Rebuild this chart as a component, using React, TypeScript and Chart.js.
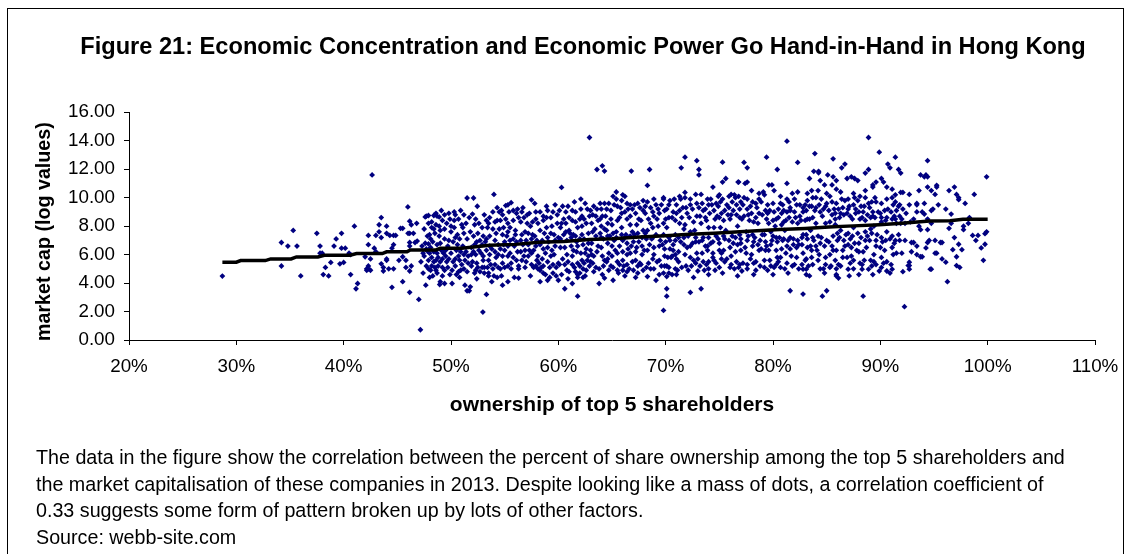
import React, { useEffect, useRef } from "react";
import { Chart, registerables } from "chart.js";

Chart.register(...registerables);

const titleText = "Figure 21: Economic Concentration and Economic Power Go Hand-in-Hand in Hong Kong";
const xAxisLabel = "ownership of top 5 shareholders";
const yAxisLabel = "market cap (log values)  ";
const notes = [
  "The data in the figure show the correlation between the percent of share ownership among the top 5 shareholders and",
  "the market capitalisation of these companies in 2013. Despite looking like a mass of dots, a correlation coefficient of",
  "0.33 suggests some form of pattern broken up by lots of other factors.",
  "Source: webb-site.com",
];

const trendLine = [
  [28.7,5.47],[30,5.47],[30.4,5.58],[32.7,5.58],[33.2,5.7],[35.1,5.7],[35.6,5.84],[37.6,5.84],[38.2,5.96],[40.6,5.96],[41.2,6.07],[43.6,6.07],[44,6.2],[45.9,6.2],[46.2,6.33],[48.6,6.33],[49,6.44],[51,6.44],[53.6,6.66],[56,6.72],[58.2,6.87],[60.5,6.92],[62.9,7.06],[65,7.12],[67.6,7.24],[70,7.32],[72.2,7.43],[74.5,7.5],[76.9,7.6],[78.5,7.68],[80.6,7.76],[83,7.84],[85.2,7.94],[87.5,8.02],[89.9,8.1],[92,8.2],[94.6,8.36],[96.5,8.38],[97.7,8.48],[100,8.48],
];

const ownership30s = [
  [28.7,4.49],[34.2,6.85],[34.2,5.2],[34.8,6.6],[35.65,6.6],[35.3,7.7],[36,4.5],[37.5,7.5],[37.8,6.6],[37.8,6.1],[38,6.1],[38.3,5.1],[38.1,4.6],[38.6,4.5],[38.8,5.45],[39.1,6.6],[39.3,7.1],[39.8,7.5],[39.8,6.45],
];
const ownership40s = [
  [40.15,6.45],[39.65,5.35],[40,5.45],[40.5,6.1],[40.65,6],[41,8],[40.65,4.6],[41.3,3.97],[41.15,3.6],[42,5.85],[42.3,7.35],[42.3,6.7],[42.5,5.7],[42.65,11.6],[42.3,5.2],[42.15,5],[42.5,4.9],[42.15,4.9],[42.3,5],[43,7.35],[42.85,6.45],[43,6.2],[43.3,8.1],[43.5,8.6],[43.3,7.6],[43.5,7.2],[44,8],[44,7.5],[44.3,7.35],[44.65,7.35],[44.85,7.35],[44.5,6.45],[44.65,6.7],[43.5,5.35],[43.7,5.1],[43.7,4.85],[44,5.7],[44,5.6],[44.2,5],[44.65,5],[44.5,3.7],[45.15,5.6],[45.5,5.85],[45.5,4.1],[45.3,7.85],[45.5,7.85],[45.8,5.1],[45.8,5.6],[45.98,9.35],[46.15,8.35],[46.3,8.1],[46.8,8.2],[46,7.5],[46.15,7.5],[46.5,7.5],[46.15,6.85],[46.15,6.6],[46.65,6.85],[46.85,6.95],[46.3,5.2],[46.15,4.85],[46.15,3.35],[47,2.85],[47.15,0.72],[47.65,3.85],
  [47.6,8.65],[47.7,8.7],[47.9,8.75],[48.4,8.75],[48.6,8.9],[48.7,8.7],[48.9,8.65],[48.2,8.3],[48.6,8.1],[48.4,7.8],[48,7.4],[47.8,7.3],[48.1,7.1],[47.6,6.8],[47.9,6.75],[48.3,6.9],[48.7,6.7],[48.5,7.5],[48.9,7.3],[47.8,6.25],[47.4,6.1],[48,6.1],[47.2,5.5],[47.7,5.2],[47.9,5.6],[48.2,5.2],[48.4,5.5],[48.6,5.6],[48.8,5.2],[48.6,4.9],[48.3,4.5],[48,4.4],[48.7,4.7],[49,4.1],[48.95,3.9],[49,5.5],[49,6.8],[49.1,9.1],[49.2,8.4],[49.4,7.8],[49.3,6.1],[49.5,6.3],[49.8,7],[49.6,5.5],[49.4,4.9],[49.7,5.1],[49.9,4.6],[49.4,3.97],[49.8,8.9],[49.9,8.5],
];
const ownership50s = [
  [50.1,3.97],[50.3,9],[50.3,8.4],[50.4,7.2],[50.6,7.4],[50.2,6.9],[50.5,6.3],[50.7,5.9],[50.2,5.5],[50.4,5.2],[50.8,5.6],[50.7,4.8],[50.9,4.9],[50.5,4.6],[50.9,9.1],[51,8.1],[51.2,7.5],[51.4,8.2],[51.1,6.6],[51.4,6.2],[51.3,5.6],[51.6,5.4],[51.2,5],[51.5,4.8],[51.3,3.85],[51.5,3.46],[51.7,3.46],[51.8,3.74],[51.5,9.98],[52.1,9.98],[52,8.85],[52.2,8.1],[52.1,7.3],[52.4,6.9],[51.9,6.5],[52.1,6.2],[52.3,6],[52,5.5],[52.4,5.4],[52.5,5.1],[52.3,4.9],[52.45,9.4],[52.97,1.96],[52.7,7],[52.9,7.9],[53,7.3],[52.8,6.1],[53,5.6],[53.1,5.1],[52.9,5.1],[53.3,3.2],[53.3,8.4],[53.4,7.9],[53.5,8.2],[53.3,7.1],[53.6,6.6],[53.3,6.3],[53.6,6],[53.5,5.6],[53.7,5.3],[53.5,4.7],[53.8,4.1],[53.5,4.5],[54,10.23],[54.1,8.3],[54.3,8.4],[53.9,7.8],[54.2,7.5],[54.4,6.7],[54.1,6.2],[54.4,6],[54.1,5.3],[54.4,5.1],[54.3,4.4],[54.7,4.5],[54.5,9],[54.7,9.1],[54.8,8.8],[54.9,7.9],[54.8,7.4],[55,6.9],[54.8,5.9],[55,6.3],[54.8,5.4],[55,5.1],[54.8,3.85],[55.1,9.45],[55.3,9.5],[55.3,8.2],[55.5,7.9],[55.3,7.6],[55.5,7],[55.3,6.6],[55.5,6.1],[55.6,5.4],[55.3,5.2],[55.3,4.1],[55.6,9.65],[55.8,9.1],[56.1,8.9],[56.2,9.2],[56,7.7],[56,7.4],[55.9,6.6],[56.2,6.2],[56.1,5.6],[56.3,5.2],[56.3,4.35],[56.6,9],[56.5,8.3],[56.8,8.6],[56.6,7.4],[56.9,7.6],[56.7,6.7],[56.8,5.9],[56.6,5.6],[56.9,5.1],[57.3,8.9],[57.5,9.85],[57.1,8.2],[57.4,8],[57.2,7.5],[57.5,7.1],[57.2,6.7],[57.5,6.1],[57.2,5.9],[57.5,5.3],[57.7,5.1],[57.8,9.6],[57.9,9],[57.9,8.5],[57.8,7.3],[57.9,6.6],[58.1,5.9],[58,5.6],[58.1,5],[58.3,4.9],[58.3,4.1],[58.6,8.7],[58.6,8.4],[58.3,7.7],[58.5,7],[58.6,6.4],[58.5,5.7],[58.6,5.2],[58.6,4.7],[58.9,9.4],[59,9.1],[58.9,7.9],[59,7.2],[59,6.5],[59,5.5],[59,4.2],[59.4,8],[59.5,9],[59.6,7.4],[59.7,7],[59.3,5.9],[59.6,6],[59.5,5.3],[59.8,5.1],[59.8,4.5],[60,4.2],[59.9,8.2],
];
const ownership60s = [
  [60.3,10.72],[60.1,9.1],[60.3,8.2],[60.2,7.9],[60.2,7.1],[60.4,5.7],[60.1,5.3],[60.3,4.6],[60.6,3.6],[60.7,9],[60.7,8.2],[60.7,7.6],[60.8,7],[60.8,6],[60.9,5.5],[60.8,4.9],[61,8.6],[61.3,8.4],[61.1,7.5],[61.4,7.4],[61.2,6.6],[61.3,5.9],[61.3,5.3],[61.3,3.97],[61.5,5.1],[61.5,9.7],[61.6,9],[61.8,7.9],[61.6,7.3],[61.8,6.6],[61.7,6.2],[61.8,5.4],[61.8,3.08],[61.8,4.4],[61.8,4.6],[62,4.7],[62.1,9.9],[62.1,9.2],[62.2,8.7],[62.2,8],[62.2,7.4],[62.3,6.7],[62.1,6.1],[62.2,5.6],[62.3,5],[62.3,4.4],[62.5,9.6],[62.7,9.2],[62.6,8.2],[62.8,7.5],[62.6,6.4],[62.8,5.9],[62.9,14.23],[62.9,5.2],[62.7,5.6],[63,9.1],[63.1,8.2],[63.2,7.6],[63,6.3],[63.1,6],[63.2,5.4],[63.3,4.8],[63.3,9.4],[63.5,8.7],[63.6,11.98],[63.4,7.8],[63.7,8.4],[63.5,7.3],[63.6,6.2],[63.5,5.1],[63.8,3.97],[63.9,9.6],[64.1,12.24],[64,9.2],[64.1,8.7],[64,8],[64.3,7.8],[64,7.2],[64.1,5.9],[64.3,5.6],[64.2,5.2],[64.3,4.35],[64.3,11.87],[64.3,9.6],[64.5,9.2],[64.6,8.2],[64.5,7.7],[64.6,7.3],[64.7,6.1],[64.6,5.7],[64.7,4.9],[65.1,10.1],[64.9,9.1],[65,8.1],[65.1,7.5],[65,6.6],[65,5.9],[65.1,5.1],[65.1,4.2],[65.4,10.4],[65.4,9.9],[65.5,9.4],[65.5,8.4],[65.4,7.6],[65.4,7.2],[65.5,6.1],[65.5,5.5],[65.6,4.7],[65.9,9.8],[66,10.2],[65.9,8.9],[65.9,7.9],[66,7],[66,6.2],[66,5.6],[66,4.9],[66.2,10.1],[66.4,9.6],[66.4,8.5],[66.3,7.4],[66.4,6.8],[66.4,6],[66.4,5.3],[66.4,4.8],[66.8,11.87],[66.7,9.5],[66.9,9.2],[66.7,8.1],[66.9,7.6],[66.8,6.6],[66.7,6.1],[66.9,5.5],[67,4.9],[67.4,9.6],[67.2,8.9],[67.3,8.1],[67.4,7.5],[67.3,6.5],[67.2,5.6],[67.4,5.2],[67.4,4.7],[67.9,9.8],[67.9,9.1],[67.7,8.4],[67.9,7.7],[67.8,6.6],[67.8,6],[67.7,5.3],[67.9,4.9],[68.3,10.86],[68.5,11.98],[68.3,9.7],[68.4,8.5],[68.3,7.7],[68.2,7.1],[68.3,6.3],[68.4,5.4],[68.3,4.46],[68.6,5],[68.9,9.9],[68.8,9],[68.9,8.7],[68.8,7.9],[68.8,7.2],[68.9,6],[68.8,5.7],[68.9,5],[69.1,4.2],[69.3,9.2],[69.4,8.9],[69.3,8],[69.4,6.6],[69.4,5.6],[69.8,2.08],[69.8,10],[69.8,9.9],[69.9,9.1],[69.8,8.2],[69.8,7.4],[69.9,6.4],[69.9,5.9],[69.9,5.2],[69.8,4.7],
];
const ownership70s = [
  [70.1,3.08],[70.1,3.6],[70.1,4.46],[70.4,9.8],[70.1,9.2],[70.3,8.6],[70.1,7.9],[70.3,7.2],[70.4,6.4],[70.2,5.8],[70.3,5.1],[70.3,4.7],[70.6,4.6],[70.8,9.9],[70.7,9],[70.9,8.4],[70.9,7.4],[70.7,6.7],[70.9,6],[70.6,5.9],[70.9,5],[71.3,10.1],[71.4,9.9],[71.45,12.1],[71.3,9.1],[71.3,8.2],[71.2,7.2],[71.2,6.2],[71.2,5.5],[71.1,4.9],[71.8,12.85],[71.8,10.37],[71.8,10],[71.6,9.3],[71.9,9.3],[71.8,8.1],[71.7,7.8],[71.7,6.7],[71.8,6],[71.9,5.2],[72.1,4.9],[72.3,9.9],[72.3,9.5],[72.3,3.34],[72.2,8.6],[72.3,7.6],[72.3,6.6],[72.3,5.8],[72.4,5.2],[72.9,12.6],[73.1,11.98],[73.1,11.6],[72.8,10.23],[72.9,9.6],[72.9,8.7],[72.7,7.7],[72.8,6.9],[72.9,6.1],[72.8,5.4],[73,4.85],[73.3,3.6],[73.3,10.23],[73.4,9.6],[73.5,9.1],[73.3,8.2],[73.4,7],[73.4,6.1],[73.5,5.5],[73.6,4.9],[73.9,9.9],[74,9.5],[73.8,8.4],[74,7.9],[73.9,6.6],[73.9,6.3],[74,5.5],[74,5],[74.4,10.75],[74.3,9.5],[74.5,9.1],[74.6,8.5],[74.5,7.9],[74.4,6.9],[74.4,6.1],[74.5,5.6],[74.6,4.9],[75,10.2],[74.9,10.1],[75.1,9.7],[74.9,9.4],[75,8.6],[75.1,7.9],[74.9,7.1],[75,6.3],[75.2,5.7],[75,5.1],[75.3,12.5],[75.3,11.1],[75.3,9.9],[75.5,9.1],[75.4,8.4],[75.6,7.7],[75.5,7.1],[75.4,6.3],[75.5,5.5],[75.6,11.35],[75.9,9.3],[75.9,10.1],[76.1,10.23],[76,8.5],[76.2,7.3],[76,6.5],[76.1,5.9],[76,5.1],[76.75,11.1],[76.4,10.2],[76.5,10],[76.6,9.5],[76.3,9.1],[76.6,8.8],[76.7,8],[76.5,7.2],[76.5,6.2],[76.6,5.5],[76.4,5],[76.8,11.1],[76.8,10.1],[77,9.7],[76.9,9.2],[77.1,8.5],[76.9,7.4],[77,6.8],[77,6.3],[76.9,5.3],[77.1,4.85],[77.3,12.48],[77.6,12.1],[77.4,11],[77.6,11.1],[77.3,10],[77.6,9.9],[77.6,9.2],[77.7,8.8],[77.5,7.6],[77.6,7],[77.5,6.1],[77.6,5.3],[77.6,5],[78,10.5],[78.1,9.7],[78,8.9],[78.2,8.3],[78.1,7.4],[78.2,6.9],[78,6],[78.2,5.4],[78.4,4.9],[78.7,10.3],[78.7,9.9],[78.5,9.3],[78.7,8.9],[78.6,8.2],[78.8,7],[78.7,6.3],[78.8,5.2],[79.1,10.4],[79.2,10.2],[79.4,12.85],[79.3,9.1],[79.4,8.5],[79.2,7.4],[79.3,6.9],[79.3,6.3],[79.2,5.6],[79.2,5.1],[79.6,10.9],[79.9,10.9],[79.7,9.1],[79.6,8.2],[79.8,7.6],[79.9,7],[79.6,6.3],[79.7,5.6],[79.8,5.2],
];
const ownership80s = [
  [80.1,10.5],[80.4,11.98],[80.1,9],[80.3,8.5],[80.2,8],[80.3,7.2],[80.3,6.3],[80.4,5.8],[80.3,5.3],[80.7,10.1],[80.7,9.6],[80.9,9.5],[80.8,8.9],[80.8,8.1],[80.6,7.2],[80.9,7],[80.7,5.8],[80.7,5.1],[81.3,13.97],[81.3,11],[81.3,9.9],[81.3,9],[81.2,8.4],[81.1,7.7],[81.3,6.6],[81.2,6.1],[81.3,5.4],[81.6,3.46],[81.8,10.3],[81.6,9.3],[81.6,9.1],[81.8,8.3],[81.6,7.2],[81.9,6.7],[81.7,5.9],[81.8,5.2],[82.3,12.48],[82.3,10.4],[82.2,9.5],[82.1,8.6],[82.3,8.2],[82.3,7],[82.2,6.5],[82.2,5.8],[82.4,5],[82.8,3.23],[82.8,9.3],[82.8,9],[82.6,8.4],[82.8,7.4],[82.7,6.7],[82.8,6.1],[82.7,5.3],[82.8,4.98],[83.1,4.6],[83.2,10.3],[83.2,9.8],[83.1,9.1],[83.2,8.5],[83.1,7.4],[83.2,6.5],[83.1,5.7],[83.1,4.98],[83.4,11.35],[83.6,10.5],[83.8,11.85],[83.9,13.1],[83.7,10],[83.6,9.4],[83.7,8.6],[83.5,7.7],[83.7,7.2],[83.5,6.6],[83.6,5.8],[83.7,5.3],[84.25,11.85],[84.25,11.75],[84.4,11.2],[84.2,10.5],[84,10],[84.3,9.5],[84.4,9],[84,8.2],[84.2,7.3],[84.4,6.8],[84.1,6.3],[84.2,5.6],[84.4,5],[84.6,3.08],[85,3.46],[85.1,11.6],[84.8,10.9],[85,10.3],[85,9.6],[84.7,9.2],[84.9,8.2],[85,7],[84.8,6.6],[84.9,5.8],[84.9,5.3],[85.6,12.73],[85.6,11.47],[85.5,10.9],[85.3,10.1],[85.5,9.7],[85.5,8.8],[85.3,8.3],[85.6,7.3],[85.5,6.6],[85.3,6],[85.4,5.2],[85.9,11.2],[85.9,10.6],[85.9,9.6],[85.8,8.9],[85.8,8.1],[86,7.5],[86,7],[85.9,6.3],[85.8,5.6],[85.9,5],[85.9,4.6],[85.9,4.5],[86.1,4.35],[86.4,12.1],[86.7,12.36],[86.3,10.4],[86.4,9.9],[86.5,9.3],[86.3,8.9],[86.3,7.7],[86.6,7],[86.5,6.3],[86.5,5.8],[86.3,5.2],[86.9,11.35],[87.3,11.47],[87.6,11.35],[87.9,11.2],[87,9.9],[87,9.2],[86.9,8.9],[87,7.5],[87,6.7],[86.9,5.8],[87,4.98],[87.2,5.4],[87.5,10.3],[87.6,10],[87.5,9.5],[87.4,8.5],[87.5,7.9],[87.4,7.3],[87.3,6.5],[87.5,5.6],[87.5,5],[88.1,10.1],[87.9,9.8],[88,9],[88.1,8.5],[87.9,7.5],[88,6.8],[88,6.2],[88.1,5.4],[88.3,4.98],[88.6,11.73],[88.9,11.98],[88.9,14.23],[88.4,3.08],[88.6,10.5],[88.6,10],[88.5,9.4],[88.4,9],[88.6,8.4],[88.6,7.6],[88.6,7],[88.4,6.2],[88.5,5.6],[88.9,4.98],[89,9.3],[89.1,8.6],[89.1,7.8],[89,7],[89.1,5.6],[89.2,5.2],[89.3,10.9],[89.3,10.75],[89.6,11.1],[89.5,10],[89.6,9.7],[89.3,9],[89.5,8.6],[89.4,8],[89.7,7.4],[89.6,6.6],[89.4,6],[89.6,5.3],[89.9,13.2],[89.9,4.85],
];
const ownership90s = [
  [90.1,11.35],[90.3,11.1],[90.1,9.6],[90.1,8.6],[90.1,8.3],[90.1,7.2],[90,6.5],[90.1,5.8],[90.1,5.1],[90.6,10.75],[90.7,12.36],[90.9,12.1],[90.6,9.9],[90.7,9.2],[90.6,8.6],[90.6,7.6],[90.5,7],[90.4,6.3],[90.6,5.5],[90.6,4.85],[91.1,10.6],[91.1,10],[91.2,9.5],[91.1,8.5],[91.1,7.3],[91.1,6.5],[91.2,6],[91.1,4.98],[91,5.3],[91.4,12.85],[91.7,11.98],[91.9,11.73],[91.4,10.2],[91.4,9.7],[91.5,9.1],[91.4,8.5],[91.5,8.2],[91.4,7],[91.5,6.1],[91.9,10.37],[92.1,10.37],[91.8,9.5],[92.1,9.2],[91.8,8.7],[91.9,8.2],[91.8,7],[92,6.1],[92.25,2.34],[92.7,10.23],[92.4,8.9],[92.7,9.5],[92.3,8.2],[92.8,8.3],[92.3,7],[92.7,5.47],[92.7,5.23],[92.7,4.98],[92.6,5.23],[92.9,6.85],[93.1,6.85],[92.9,6.2],[93.1,8.5],[93.4,9.6],[93.4,9.5],[93.4,9],[93.6,10.5],[93.6,8],[93.75,7.75],[93.4,6.6],[93.4,6],[93.75,5.85],[93.9,5.85],[93.75,11.6],[94.1,11.47],[94.25,11.6],[94.4,11.47],[94.4,12.6],[93.9,9],[94.1,9.6],[94.1,8.85],[94.4,8.5],[94.4,7.75],[94.55,7],[94.4,6.85],[94.25,6.47],[94.65,4.98],[94.75,4.98],[94.4,10.75],[94.75,10.5],[94.75,9.1],[94.9,9.2],[94.75,8.2],[95.1,7],[95.1,6.1],[95.25,6.1],[95.1,10.23],[95.25,10.87],[95.25,10.75],[95.4,9.5],[95.6,6.85],[95.75,6.85],[95.75,5.7],[96.1,9.2],[96.1,5.47],[96.25,4.1],[96.4,10.5],[96.4,7.85],[96.6,8.85],[96.6,8.2],[96.75,6.35],[96.9,10.75],[96.9,7.2],[97.1,10.23],[97.1,5.85],[97.1,5.23],[97.3,10],[97.3,9.86],[97.3,6.73],[97.4,5.1],[97.6,6.35],[97.75,8],[97.75,7.75],[97.9,9.6],[98.2,8.2],[98.3,8.6],[98.6,7.35],[98.75,10.23],[98.9,7],[99.1,7.35],[99.4,6.47],[99.6,5.6],[99.75,7.47],[99.75,6.73],[99.9,7.6],[99.9,11.47],
];
const denseBandLeft = [
  [47.3,6.6],[47.5,5.9],[47.7,6.4],[47.4,4.7],[47.9,5],[48.1,6.5],[48.2,5.8],[48.1,4.9],[48.4,6.2],[48.5,5.1],[48.7,6.1],[48.8,5.8],[49,7.7],[49.1,6.3],[49.2,5.7],[49.2,5.1],[49.4,7.1],[49.5,5.9],[49.7,6.6],[49.8,5.7],[50,7.6],[50,6.1],[50.1,4.9],[50.3,7.9],[50.4,5.7],[50.6,6.7],[50.8,7.1],[50.9,6.2],[51,5.3],[51.1,7.9],[51.2,6],[51.5,7.1],[51.6,5.9],[51.8,7.6],[51.9,6],[51.9,5.2],[52.2,6.7],[52.2,4.7],[52.5,7.5],[52.6,6.3],[52.7,4.8],[52.9,6.7],[53,5.9],[53.1,4.7],[53.2,6.9],[53.4,5.1],[53.6,7.3],[53.8,6.4],[53.9,5],[54.1,7],[54.2,5.8],[54.5,7.8],[54.6,6.4],[54.6,5],[54.9,6.7],[55.2,7.3],[55.3,5.9],[55.6,5],[55.8,7.1],[55.8,5.8],[56.1,6.9],[56.3,5],[56.5,7],[56.5,6.2],[56.9,6.3],[57,7],[57,5.5],[57.3,6.3],[57.6,7.4],[57.7,6.3],[57.9,5.2],[58,7],[58.2,5.4],[58.3,6.7],[58.4,5.1],[58.7,7.5],[58.8,6.1],[58.8,4.6],[59.1,6.9],[59.2,5.1],[59.3,7.5],[59.4,6.3],[59.5,4.7],[59.7,6.6],[60,7.2],[60,5.4],[60.2,6.5],[60.5,7.4],[60.6,6.5],[60.6,5.3],[61,7.7],[61,4.8],[61.2,7.2],[61.4,6.3],[61.6,4.8],[61.7,6.9],[62,5.2],[62,7.1],[62.4,7.1],[62.4,5.4],[62.5,6.1],[62.6,4.9],[62.8,6.8],[63,5.5],[63.1,6.8],[63.3,5.9],[63.7,6.6],[63.8,5],[63.9,7.5],[64,6.5],[64.2,7.1],[64.5,5.5],[64.6,6.8],[64.8,7.3],[64.9,5.2],[65.2,7],[65.3,6.3],[65.5,4.9],[65.7,6.6],[65.7,5.3],[65.9,7.4],[66.1,5.2],[66.2,7.2],[66.5,6.4],[66.6,5],[66.7,7.3],[67,6.9],[67.1,7.4],[67.2,6.2],[67.5,6.9],[67.6,5.4],[67.8,7.2],[68,6.3],[68.1,7.5],[68.2,5.1],[68.5,6.7],[68.7,7.1],[68.9,6.5],[69.1,7.4],[69.2,5.5],[69.5,7],[69.6,5.2],[69.7,6.7],
];
const denseBandRight = [
  [70,6.9],[70.1,5.2],[70.4,7],[70.5,5.8],[70.7,6.3],[70.9,7],[71,5.7],[71.4,6.9],[71.5,5.1],[71.7,7.2],[72,6.5],[72.1,7.3],[72.5,6.8],[72.6,5.6],[72.8,7.2],[73,5.7],[73.1,6.9],[73.2,5.2],[73.5,7.2],[73.7,6.6],[73.8,5.3],[74,7.2],[74.2,6.8],[74.4,5.8],[74.7,7.3],[74.7,5.4],[75,6.8],[75.2,6.1],[75.4,7.3],[75.7,5.7],[75.9,7],[76.1,5.3],[76.3,6.8],[76.7,6.7],[76.8,5.1],[77,7.1],[77.2,5.4],[77.4,6.5],[77.7,7.3],[77.9,5.7],[78.1,6.6],[78.3,7.2],[78.4,5.5],[78.6,6.7],[78.9,6.4],[79,7.4],[79.4,6.6],[79.5,4.9],[79.8,6.7],[80,7.3],[80.1,5.1],[80.4,6.9],[80.5,5.5],[80.8,6.4],[81,7.1],[81.1,5],[81.4,7],[81.6,6.4],[81.9,7.1],[82,5.3],[82.4,6.7],[82.7,7.2],[83,5.6],[83.2,7.1],[83.3,5.2],[83.6,6.3],[83.8,7],[84,6.6],[84.3,6],[84.5,7.2],[84.7,5],[85.2,6.9],[85.3,5.1],[85.6,6.3],[86.1,5.3],[86.2,7.2],[86.7,6.6],[86.8,7.4],[87.2,7.1],[87.3,5.9],[87.6,6.8],[87.8,6.3],[88.2,7.2],[88.3,5.3],[88.7,6.5],[88.8,7.3],[89.2,7.5],[89.4,5.5],[89.6,7],[90.2,6.9],[90.3,5.4],[90.9,7.1],[91.3,6.8],[91.7,7.4],
];
const upperBand = [
  [47.5,7.8],[47.9,8.2],[48.2,7.9],[48.9,8],[49.4,8.8],[49.6,8.2],[50,8],[50.4,8.8],[50.7,8.5],[51.2,8.8],[51.7,8.6],[52.3,8.5],[52.6,8.2],[53.1,8.8],[53.6,8.6],[53.9,9],[54.3,9.3],[54.6,8.4],[55.1,8.5],[55.4,9],[55.8,8.4],[56.3,8.6],[56.7,9.3],[57.1,8.8],[57.6,8.3],[58.1,8.2],[58.3,9],[58.9,8.6],[59.3,8.6],[59.7,9.5],[59.9,8.8],[60.4,9.4],[60.5,8.5],[60.9,9.4],[61.3,9.1],[61.6,8.3],[62,8.5],[62.4,8.5],[62.9,8.7],[63.2,8.8],[63.6,9.2],[63.9,8.5],[64.4,8.7],[64.7,9.6],[64.9,8.5],[65.2,9.5],[65.7,8.6],[65.8,9.3],[66.2,9],[66.5,9.2],[66.7,8.7],[67.1,9.5],[67.5,8.5],[67.6,9.3],[68.1,8.9],[68.1,9.4],[68.6,9.3],[68.6,8.2],[69.1,9.5],[69.2,8.5],[69.6,9.5],[70,8.5],[70.3,9.5],[70.6,8.6],[71,9.5],[71,8.9],[71.5,8.6],[72,8.9],[72.5,9.2],[72.6,8.3],[73.1,9.3],[73.2,8.7],[73.7,9.2],[73.7,8.6],[74.1,8.9],[74.2,9.9],[74.7,9.6],[74.8,8.7],[75.2,8.9],[75.7,9.5],[75.8,8.8],[76.2,9.7],[76.1,8.8],[76.9,8.6],[77.2,9.5],[77.3,8.7],[77.8,8.4],[77.9,9.4],[78.4,9.6],[78.4,8.6],[78.9,9.7],[79,8.8],[79.5,9.5],[79.5,8.9],[80,9.6],[80,8.4],[80.5,9.2],[80.5,8.6],[81,9.1],[81,8.3],[81.5,9.7],[81.5,8.6],[82,9],[82,9.9],[82.5,9.5],[82.5,8.7],[83,9.5],[83,8.4],[83.4,9.4],[83.4,8.5],[83.9,9.1],[84,9.3],[84.5,9.9],[84.6,8.7],[84.9,9.4],[85.2,9.1],[85.7,9.2],[85.8,8.5],[86.1,9.2],[86.2,8.6],[86.6,8.8],[86.7,9.8],[87.2,8.7],[87.1,9.4],[87.7,8.9],[87.7,9.2],[88.2,9.4],[88.3,8.6],[88.8,8.8],[88.9,9.6],[89.2,9.7],[89.3,8.7],[89.8,9],[90,8.9],[90.4,9.1],[90.5,8.4],[91,9],[91.3,8.7],[91.7,9.4],[92,8.5],
];
const lowerFringe = [
  [49.2,4.5],[50.8,4.4],[52.4,4.3],[54,4.5],[55.9,4.4],[57.4,4.5],[59.2,4.4],[60.9,4.3],[62.5,4.5],[64.1,4.6],[66.2,4.5],[67.2,4.4],[69.4,4.6],[71,4.6],[72.6,4.4],[74,4.6],[75.3,4.7],[76.7,4.5],[78.2,4.6],[80,4.6],[81.4,4.7],[83.4,4.5],[84.8,4.7],[87.1,4.5],[88,4.6],[89.3,4.6],[90.9,4.7],[92.1,4.8],
];

const scatterPoints = [
  ...ownership30s, ...ownership40s, ...ownership50s, ...ownership60s, ...ownership70s, ...ownership80s, ...ownership90s, ...denseBandLeft, ...denseBandRight, ...upperBand, ...lowerFringe,
].map(([x, y]) => ({ x, y }));
const trendPoints = trendLine.map(([x, y]) => ({ x, y }));

const FONT = '"Liberation Sans", Arial, sans-serif';

export default function App() {
  const ref = useRef<HTMLCanvasElement>(null);
  useEffect(() => {
    const chart = new Chart(ref.current!, {
      type: "scatter",
      data: {
        datasets: [
          {
            label: "Trend",
            data: trendPoints,
            showLine: true,
            borderColor: "#000000",
            borderWidth: 3.5,
            pointRadius: 0,
          },
          {
            label: "Companies",
            data: scatterPoints,
            pointStyle: "rectRot",
            pointRadius: 2.9,
            backgroundColor: "#000080",
            borderWidth: 0,
          },
        ],
      },
      options: {
        animation: false,
        responsive: false,
        layout: { padding: { left: 36, right: 0, top: 0, bottom: 136 } },
        plugins: {
          legend: { display: false },
          tooltip: { enabled: false },
          title: {
            display: true,
            text: titleText,
            color: "#000",
            font: { family: FONT, size: 23.6, weight: "bold" },
            padding: { top: 33, bottom: 51 },
          },
        },
        scales: {
          x: {
            type: "linear",
            min: 20,
            max: 110,
            afterFit: (s: any) => { s.height = 78; s.paddingRight = 35; },
            ticks: {
              stepSize: 10,
              color: "#000",
              padding: 11,
              maxRotation: 0,
              font: { family: FONT, size: 18.8 },
              callback: (v: any) => `${v}%`,
            },
            grid: { drawOnChartArea: false, color: "#000", tickLength: 5, tickColor: "#000" },
            border: { color: "#000", width: 1 },
            title: {
              display: true,
              text: xAxisLabel,
              color: "#000",
              font: { family: FONT, size: 21, weight: "bold" },
              padding: 0,
            },
          },
          y: {
            min: 0,
            max: 16,
            afterFit: (s: any) => { s.width = 93; },
            ticks: {
              stepSize: 2,
              color: "#000",
              padding: 9,
              font: { family: FONT, size: 18.8 },
              callback: (v: any) => Number(v).toFixed(2),
            },
            grid: { drawOnChartArea: false, color: "#000", tickLength: 5, tickColor: "#000" },
            border: { color: "#000", width: 1 },
            title: {
              display: true,
              text: yAxisLabel,
              color: "#000",
              font: { family: FONT, size: 19.7, weight: "bold" },
              padding: { top: -3, bottom: 0 },
            },
          },
        },
      },
    });
    return () => chart.destroy();
  }, []);
  return (
    <div style={{ position: "absolute", left: 0, top: 0, width: 1130, height: 554, overflow: "hidden", background: "#fff" }}>
      <canvas ref={ref} width={1130} height={554} style={{ display: "block" }} />
      <div style={{ position: "absolute", left: 7, top: 8, width: 1115, height: 600, border: "1px solid #000" }} />
      <div style={{ position: "absolute", left: 36, top: 444, fontFamily: FONT, fontSize: 19.7, lineHeight: "26.6px", color: "#000", whiteSpace: "pre" }}>
        {notes.map((n) => <div key={n}>{n}</div>)}
      </div>
    </div>
  );
}
